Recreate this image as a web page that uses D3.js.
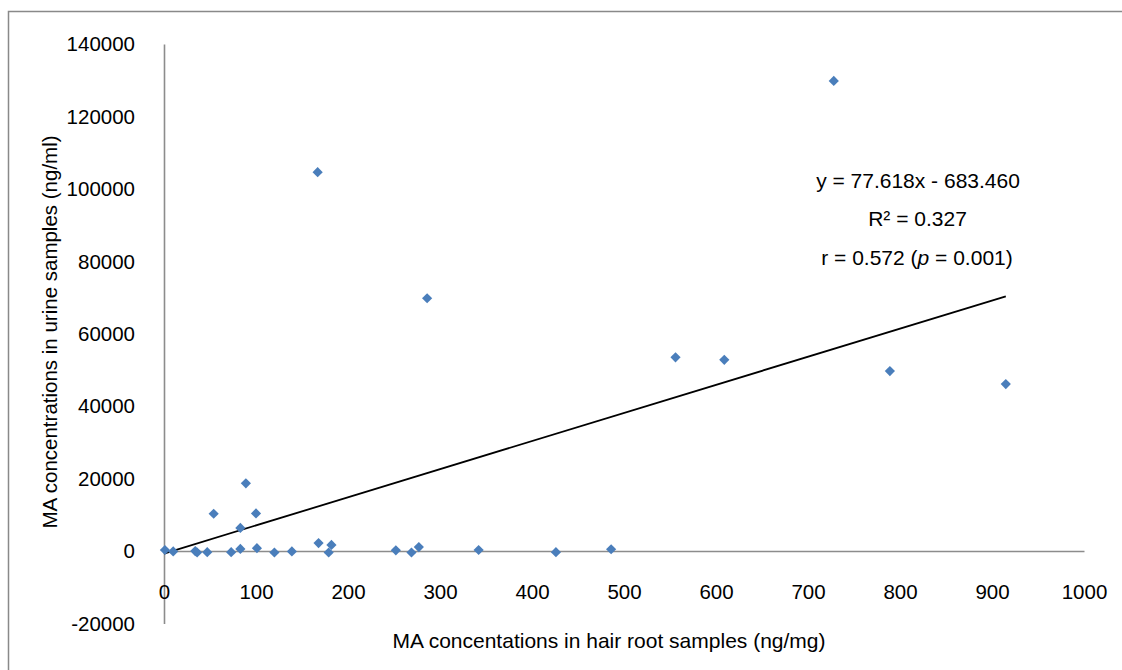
<!DOCTYPE html>
<html>
<head>
<meta charset="utf-8">
<script src="https://cdn.jsdelivr.net/npm/d3@7"></script>
<style>
  body { margin: 0; background: #fff; }
  text { font-family: "Liberation Sans", Arial, sans-serif; fill: #000; }
</style>
</head>
<body>
<svg></svg>
<script>
// hair root MA (ng/mg) vs urine MA (ng/ml)
var hairValues = [1, 10, 34, 36, 47, 54, 73, 83, 83, 89, 100, 101, 120, 139, 167,
                  168, 179, 182, 252, 269, 277, 286, 342, 426, 486, 556, 609, 728, 789, 915];
var urineValues = [300, -100, 0, -400, -300, 10300, -300, 6400, 600, 18700, 10400, 800, -400, -100, 104600,
                   2200, -400, 1700, 200, -400, 1100, 69800, 300, -300, 500, 53500, 52800, 129800, 49700, 46100];

var xTicks = [0, 100, 200, 300, 400, 500, 600, 700, 800, 900, 1000];
var yTicks = [-20000, 0, 20000, 40000, 60000, 80000, 100000, 120000, 140000];

// linear trend line
var slope = 77.618;
var intercept = -683.460;
var statLines = ["y = 77.618x - 683.460", "R² = 0.327"];

var width = 1122;
var height = 670;
var svg = d3.select('svg')
            .attr('width', width)
            .attr('height', height);

// chart area border (runs off the right and bottom edge)
svg.append('rect')
   .attr('x', 8.5).attr('y', 11.5)
   .attr('width', 1200).attr('height', 700)
   .attr('fill', '#fff')
   .attr('stroke', '#898989')
   .attr('stroke-width', 1.5);

var x = d3.scaleLinear().domain([0, 1000]).range([164, 1084]);
var y = d3.scaleLinear().domain([-20000, 140000]).range([623.5, 44]);

// plain numbers, ascii minus
var plain = d => String(d);

//Y axis
var yAxis = svg.append('g')
    .attr('transform', 'translate(' + x(0) + ',0)')
    .call(d3.axisLeft(y).tickValues(yTicks).tickFormat(plain).tickSize(0).tickSizeOuter(0).tickPadding(29));

//X axis along y = 0
var xAxis = svg.append('g')
    .attr('transform', 'translate(0,' + y(0) + ')')
    .call(d3.axisBottom(x).tickValues(xTicks).tickFormat(plain).tickSize(0).tickSizeOuter(0).tickPadding(33));

svg.selectAll('.domain')
   .attr('stroke', '#8c8c8c')
   .attr('stroke-width', 1.6);
svg.selectAll('.tick text')
   .attr('font-family', '"Liberation Sans", Arial, sans-serif')
   .attr('font-size', '20.5px')
   .attr('fill', '#000');
yAxis.selectAll('.tick text').attr('dy', '0.33em');

// trend line
var lineX = [0, d3.max(hairValues)];
svg.append('path')
   .datum(lineX)
   .attr('d', d3.line().x(d => x(d)).y(d => y(slope * d + intercept)))
   .attr('stroke', '#000')
   .attr('stroke-width', 1.8)
   .attr('fill', 'none');

// points
var diamond = d3.symbol().type(d3.symbolSquare).size(52);
svg.append('g')
   .selectAll('path')
   .data(hairValues)
   .enter()
   .append('path')
   .attr('d', diamond)
   .attr('transform', (d, i) => 'translate(' + x(d) + ',' + y(urineValues[i]) + ') rotate(45)')
   .attr('fill', '#4a7ebb');

// regression text
var stats = svg.append('g').attr('font-size', '21px').attr('text-anchor', 'middle');
stats.append('text').attr('x', 918).attr('y', 188).text(statLines[0]);
stats.append('text').attr('x', 917.5).attr('y', 226).text(statLines[1]);
var rText = stats.append('text').attr('x', 917).attr('y', 265);
rText.append('tspan').text('r = 0.572 (');
rText.append('tspan').attr('font-style', 'italic').text('p');
rText.append('tspan').text(' = 0.001)');

//Axis titles
svg.append('text')
   .attr('x', 609).attr('y', 648)
   .attr('text-anchor', 'middle')
   .attr('font-size', '21px')
   .text('MA concentations in hair root samples (ng/mg)');

svg.append('text')
   .attr('transform', 'translate(57,332) rotate(-90)')
   .attr('text-anchor', 'middle')
   .attr('font-size', '20.5px')
   .text('MA concentrations in urine samples (ng/ml)');
</script>
</body>
</html>
